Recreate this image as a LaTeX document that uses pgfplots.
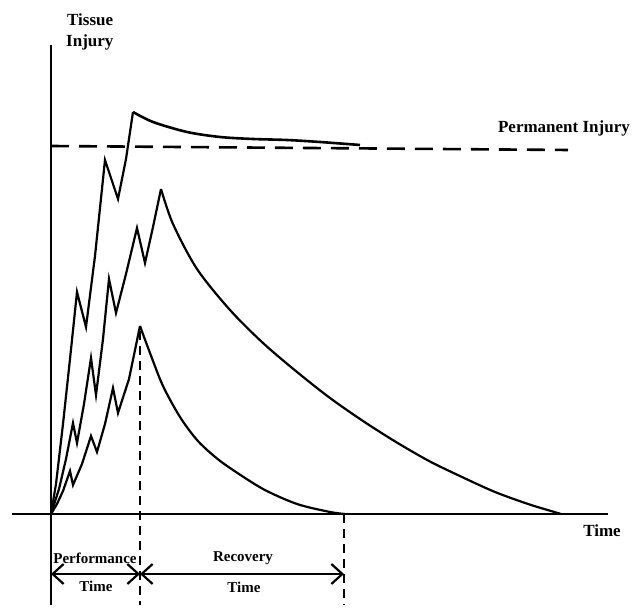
\documentclass[border=0pt]{standalone}
\usepackage{pgfplots}
\pgfplotsset{compat=1.18}
\usepackage{fontspec}
\setmainfont{Liberation Serif}
\usetikzlibrary{arrows.meta}
\begin{document}
\begin{tikzpicture}
\begin{axis}[
  x=1pt, y=1pt,
  xmin=-39, xmax=557, ymin=-91, ymax=469,
  axis lines=middle,
  axis line style={-, line width=2.6pt},
  xtick=\empty, ytick=\empty,
  clip=false,
]
\path (axis cs:-51,-99) rectangle (axis cs:582,514);
% Curve 1 (top) rising teeth
\addplot[black, line width=2.2pt, line join=miter] coordinates {
 (0,0) (5,30) (12,90) (19,155) (26,222)
 (35,187) (44,258) (54,354)
 (67,315) (75,355) (82,402)
};
\addplot[black, line width=2.6pt, smooth] coordinates {
 (82,402) (102,392) (136,382) (169,377) (202,375) (236,374) (269,372) (309,369)
};
% Curve 2 (middle)
\addplot[black, line width=2.2pt, line join=miter] coordinates {
 (0,0) (8,25) (15,55) (22,91)
 (26,71) (33,110) (40,156)
 (45,119) (52,175) (58,235)
 (65,201) (75,240) (86,286)
 (94,251) (102,287) (110,325)
};
\addplot[black, line width=2.2pt, smooth] coordinates {
 (110,325) (122,290) (146,245) (179,204) (212,171) (246,142) (279,116)
 (312,93) (345,72) (378,53) (411,37) (444,22) (477,10) (500,3) (510,0)
};
% Curve 3 (bottom)
\addplot[black, line width=2.2pt, line join=miter] coordinates {
 (0,0) (6,10) (12,23) (19,43)
 (22,29) (31,50) (40,78)
 (46,62) (54,90) (62,126)
 (67,101) (78,135) (89,188)
};
\addplot[black, line width=2.2pt, smooth] coordinates {
 (89,188) (99,161) (112,128) (129,97) (146,74) (163,58) (179,46) (212,25) (246,10) (279,2) (294,0)
};
% Permanent injury threshold
\addplot[black, line width=2.6pt, dash pattern=on 18pt off 10pt] coordinates {(0,368) (517,364)};
% Vertical dashed lines
\addplot[black, line width=1.8pt, dash pattern=on 9pt off 6pt] coordinates {(89,183) (89,-91)};
\addplot[black, line width=1.8pt, dash pattern=on 9pt off 6pt] coordinates {(293,0) (293,-91)};
% Time arrows
\draw[{Straight Barb[length=11pt,width=20pt]}-{Straight Barb[length=11pt,width=20pt]}, line width=2.2pt]
  (axis cs:0,-60) -- (axis cs:89,-60);
\draw[{Straight Barb[length=11pt,width=20pt]}-{Straight Barb[length=11pt,width=20pt]}, line width=2.2pt]
  (axis cs:89,-60) -- (axis cs:293,-60);
% Labels
\node[font=\bfseries\fontsize{15}{17}\selectfont] at (axis cs:44,-44) {Performance};
\node[font=\bfseries\fontsize{15}{17}\selectfont] at (axis cs:45,-72) {Time};
\node[font=\bfseries\fontsize{15}{17}\selectfont] at (axis cs:192,-44) {Recovery};
\node[font=\bfseries\fontsize{15}{17}\selectfont] at (axis cs:193,-73) {Time};
\node[font=\bfseries\fontsize{17}{19}\selectfont, anchor=east, inner sep=0pt] at (axis cs:579,386) {Permanent Injury};
\node[font=\bfseries\fontsize{17}{19}\selectfont] at (axis cs:551,-17) {Time};
\node[font=\bfseries\fontsize{17}{19}\selectfont, anchor=west, inner sep=0pt] at (axis cs:16,494) {Tissue};
\node[font=\bfseries\fontsize{17}{19}\selectfont, anchor=west, inner sep=0pt] at (axis cs:15,472) {Injury};
\end{axis}
\end{tikzpicture}
\end{document}
